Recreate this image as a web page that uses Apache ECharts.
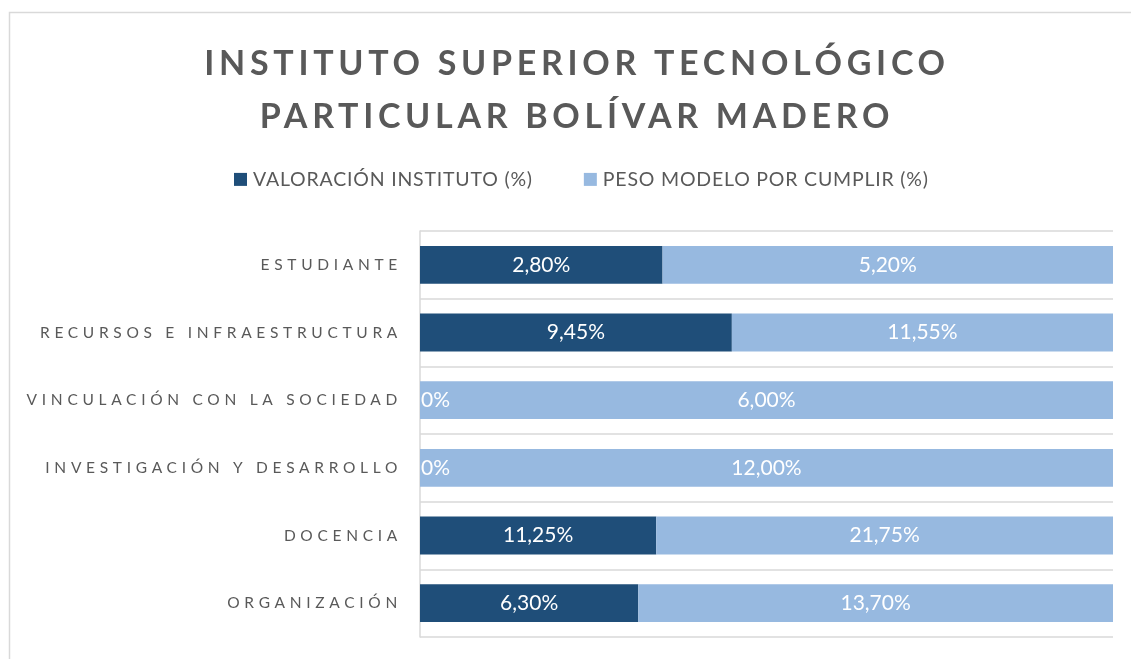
<!DOCTYPE html>
<html>
<head>
<meta charset="utf-8">
<script src="https://cdn.jsdelivr.net/npm/echarts@6/dist/echarts.min.js"></script>
<style>
html,body{margin:0;padding:0;background:#fff;}
#chart{width:1131px;height:659px;}
</style>
</head>
<body>
<div id="chart"></div>
<script>
// ---- data ----
const titleText = 'INSTITUTO SUPERIOR TECNOLÓGICO\nPARTICULAR BOLÍVAR MADERO';
const seriesNames = ['VALORACIÓN INSTITUTO (%)', 'PESO MODELO POR CUMPLIR (%)'];
const categories = ['ESTUDIANTE', 'RECURSOS E INFRAESTRUCTURA', 'VINCULACIÓN CON LA SOCIEDAD', 'INVESTIGACIÓN Y DESARROLLO', 'DOCENCIA', 'ORGANIZACIÓN'];
const valoracion = [2.80, 9.45, 0, 0, 11.25, 6.30];
const pesoPorCumplir = [5.20, 11.55, 6.00, 12.00, 21.75, 13.70];

// letter spacing for specific Lato sizes (title, legend and axis labels)
const SPACING = {'34': 4.7, '15.5': 4.7, '19.5': 0.8};
(function () {
  const proto = CanvasRenderingContext2D.prototype;
  const desc = Object.getOwnPropertyDescriptor(proto, 'font');
  if (!desc || !('letterSpacing' in proto)) return;
  Object.defineProperty(proto, 'font', {
    configurable: true,
    get() { return desc.get.call(this); },
    set(v) {
      desc.set.call(this, v);
      const m = /(\d+(?:\.\d+)?)px/.exec(v || '');
      const sp = (m && /Lato/.test(v) && SPACING[m[1]]) || 0;
      this.letterSpacing = sp + 'px';
    }
  });
})();

const fmt = v => v === 0 ? '0%' : v.toFixed(2).replace('.', ',') + '%';
const totals = valoracion.map((v, i) => v + pesoPorCumplir[i]);
const makeData = arr => arr.map((v, i) => {
  const item = { value: v / totals[i] * 100, raw: v };
  if (v === 0) item.label = { position: 'insideLeft', distance: 1 };
  return item;
});

const TXT = '#595959';
const chart = echarts.init(document.getElementById('chart'), null, { renderer: 'canvas' });
chart.setOption({
  animation: false,
  backgroundColor: '#fff',
  title: {
    text: titleText,
    left: 572,
    textAlign: 'center',
    top: 33,
    textStyle: { fontFamily: 'Lato', fontWeight: 'bold', fontSize: 34, color: TXT, lineHeight: 53 }
  },
  graphic: [{
    type: 'rect', z: -10, silent: true,
    shape: { x: 9.5, y: 12.5, width: 1200, height: 700 },
    style: { fill: 'none', stroke: '#d9d9d9', lineWidth: 1.5 }
  }],
  legend: {
    data: seriesNames,
    left: 229,
    top: 164,
    icon: 'rect',
    itemWidth: 13,
    itemHeight: 13,
    itemGap: 51,
    textStyle: { fontFamily: 'Lato', fontSize: 19.5, color: TXT, padding: [0, 0, 0, 1] }
  },
  grid: { left: 420, right: 18, top: 231, bottom: 22, containLabel: false },
  xAxis: { type: 'value', min: 0, max: 100, show: false },
  yAxis: {
    type: 'category',
    data: categories,
    inverse: true,
    axisLine: { show: true, lineStyle: { color: '#d9d9d9', width: 1.5 } },
    axisTick: { show: false },
    splitLine: { show: true, lineStyle: { color: '#d9d9d9', width: 1.5 } },
    axisLabel: { fontFamily: 'Lato', fontSize: 15.5, color: TXT, margin: 18 }
  },
  series: [
    {
      name: seriesNames[0], type: 'bar', stack: 'total', barWidth: '56%',
      itemStyle: { color: '#1f4e79' },
      label: { show: true, position: 'inside', color: '#fff', fontFamily: 'Lato', fontSize: 21,
        formatter: p => fmt(p.data.raw) },
      data: makeData(valoracion)
    },
    {
      name: seriesNames[1], type: 'bar', stack: 'total', barWidth: '56%',
      itemStyle: { color: '#97b9e0' },
      label: { show: true, position: 'inside', color: '#fff', fontFamily: 'Lato', fontSize: 21,
        formatter: p => fmt(p.data.raw) },
      data: makeData(pesoPorCumplir)
    }
  ]
});
</script>
</body>
</html>
